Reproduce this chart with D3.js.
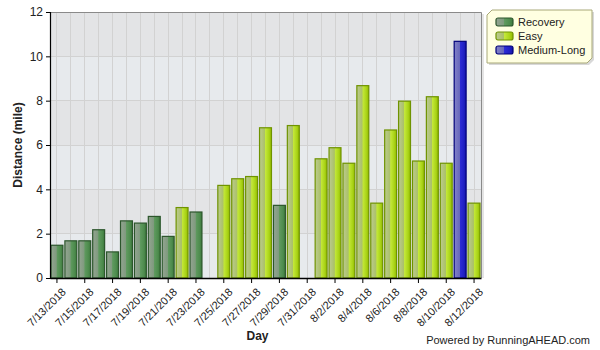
<!DOCTYPE html>
<html>
<head>
<meta charset="utf-8">
<script src="https://cdn.jsdelivr.net/npm/d3@7"></script>
<style>
  html, body { margin: 0; padding: 0; background: #fff; }
  svg { display: block; font-family: Arial, "Liberation Sans", sans-serif; }
</style>
</head>
<body>
<svg id="chart" width="600" height="350"></svg>
<script>
// Daily run log, 7/13/2018 – 8/12/2018
const days = ["7/13/2018","7/14/2018","7/15/2018","7/16/2018","7/17/2018","7/18/2018","7/19/2018","7/20/2018",
  "7/21/2018","7/22/2018","7/23/2018","7/24/2018","7/25/2018","7/26/2018","7/27/2018","7/28/2018",
  "7/29/2018","7/30/2018","7/31/2018","8/1/2018","8/2/2018","8/3/2018","8/4/2018","8/5/2018",
  "8/6/2018","8/7/2018","8/8/2018","8/9/2018","8/10/2018","8/11/2018","8/12/2018"];
const distances = [1.5,1.7,1.7,2.2,1.2,2.6,2.5,2.8,
  1.9,3.2,3.0,null,4.2,4.5,4.6,6.8,
  3.3,6.9,null,5.4,5.9,5.2,8.7,3.4,
  6.7,8.0,5.3,8.2,5.2,10.7,3.4];
const runTypes = ["Recovery","Recovery","Recovery","Recovery","Recovery","Recovery","Recovery","Recovery",
  "Recovery","Easy","Recovery",null,"Easy","Easy","Easy","Easy",
  "Recovery","Easy",null,"Easy","Easy","Easy","Easy","Easy",
  "Easy","Easy","Easy","Easy","Easy","Medium-Long","Easy"];
const seriesNames = ["Recovery","Easy","Medium-Long"];
const yTicks = [0,2,4,6,8,10,12];
const xTickLabels = days.filter((d, i) => i % 2 === 0);

const svg = d3.select("#chart");
const margin = {left: 50, top: 12, right: 119, bottom: 72};
const W = 600, H = 350;
const x0 = margin.left, x1 = W - margin.right, y0 = H - margin.bottom, y1 = margin.top;

const x = d3.scaleBand().domain(days).range([x0, x1]).paddingInner(0.07).paddingOuter(0.035);
const y = d3.scaleLinear().domain([0, 12]).range([y0, y1]);

// Gradients for the bar fills
const defs = svg.append("defs");
const styles = {
  "Recovery":    {stroke: "#2c562c", stops: [["0%","#94a592"],["45%","#7f9a7e"],["50%","#5f9a5f"],["80%","#4e8c4e"],["100%","#3c783c"]]},
  "Easy":        {stroke: "#6f9300", stops: [["0%","#bccb90"],["45%","#aac068"],["50%","#c4e83a"],["80%","#aad418"],["100%","#92b800"]]},
  "Medium-Long": {stroke: "#00007a", stops: [["0%","#8383c8"],["45%","#6868bc"],["50%","#2c2cd6"],["80%","#2020c4"],["100%","#1414a8"]]}
};
seriesNames.forEach((s, i) => {
  const g = defs.append("linearGradient").attr("id", "grad" + i)
    .attr("x1", "0%").attr("x2", "100%").attr("y1", "0%").attr("y2", "0%");
  styles[s].stops.forEach(([o, c]) => g.append("stop").attr("offset", o).attr("stop-color", c));
});
const fillOf = s => "url(#grad" + seriesNames.indexOf(s) + ")";

// Plot background: alternating horizontal bands
const bands = d3.range(0, 12, 2);
svg.append("g").selectAll("rect").data(bands).join("rect")
  .attr("x", x0).attr("width", x1 - x0)
  .attr("y", d => y(d + 2)).attr("height", d => y(d) - y(d + 2))
  .attr("fill", d => (d / 2) % 2 === 1 ? "#e3e4e6" : "#e7eaed");

// Grid lines
svg.append("g").selectAll("line").data(days).join("line")
  .attr("x1", d => x(d) + x.bandwidth() / 2).attr("x2", d => x(d) + x.bandwidth() / 2)
  .attr("y1", y1).attr("y2", y0)
  .attr("stroke", "#d2d2d2").attr("stroke-width", 1).attr("shape-rendering", "crispEdges");
svg.append("g").selectAll("line").data(yTicks.slice(1, -1)).join("line")
  .attr("x1", x0).attr("x2", x1).attr("y1", d => y(d)).attr("y2", d => y(d))
  .attr("stroke", "#d2d2d2").attr("stroke-width", 1).attr("shape-rendering", "crispEdges");

// Frame: top and right edges with a soft shadow
svg.append("line").attr("x1", x1 + 2).attr("x2", x1 + 2).attr("y1", y1 + 2).attr("y2", y0)
  .attr("stroke", "#e4e4e4").attr("stroke-width", 2);
svg.append("path").attr("d", `M${x0},${y1 + 0.5}H${x1 + 0.5}V${y0}`)
  .attr("fill", "none").attr("stroke", "#8a8a8a").attr("stroke-width", 1);

// Bars
const rows = days.map((d, i) => ({day: d, value: distances[i], type: runTypes[i]})).filter(r => r.value != null);
svg.append("g").selectAll("rect").data(rows).join("rect")
  .attr("x", r => x(r.day) + 0.5)
  .attr("y", r => y(r.value) + 0.5)
  .attr("width", x.bandwidth() - 1)
  .attr("height", r => y(0) - y(r.value) - 0.5)
  .attr("fill", r => fillOf(r.type))
  .attr("stroke", r => styles[r.type].stroke)
  .attr("stroke-width", 1.2);

// Axes
const yAxis = svg.append("g").attr("transform", `translate(${x0},0)`)
  .call(d3.axisLeft(y).tickValues(yTicks).tickSize(4).tickPadding(3));
yAxis.select(".domain").attr("stroke", "#000").attr("stroke-width", 1.2);
yAxis.selectAll(".tick line").attr("stroke", "#000");
yAxis.selectAll(".tick text").attr("font-size", 12).attr("fill", "#222")
  .attr("font-family", "Arial, 'Liberation Sans', sans-serif");

const xAxis = svg.append("g").attr("transform", `translate(0,${y0})`)
  .call(d3.axisBottom(x).tickValues(xTickLabels).tickSize(5).tickSizeOuter(0));
xAxis.select(".domain").attr("stroke", "#000").attr("stroke-width", 1.6);
xAxis.selectAll(".tick line").attr("stroke", "#000");
xAxis.selectAll(".tick text")
  .attr("font-size", 11).attr("fill", "#222")
  .attr("font-family", "Arial, 'Liberation Sans', sans-serif")
  .attr("text-anchor", "end")
  .attr("dx", 0).attr("dy", 0)
  .attr("transform", "translate(4,9) rotate(-45)");

// Axis titles
svg.append("text").attr("transform", `translate(22,${(y0 + y1) / 2}) rotate(-90)`)
  .attr("text-anchor", "middle").attr("font-size", 12).attr("font-weight", "bold").attr("fill", "#222")
  .text("Distance (mile)");
svg.append("text").attr("x", (x0 + x1) / 2 - 8).attr("y", 340)
  .attr("text-anchor", "middle").attr("font-size", 12).attr("font-weight", "bold").attr("fill", "#222")
  .text("Day");

// Legend
const lg = svg.append("g").attr("transform", "translate(487,10)");
const lw = 105, lh = 53, c = 5;
const legendPath = `M${c},0H${lw}V${lh - c}L${lw - c},${lh}H0V${c}Z`;
lg.append("path").attr("d", legendPath).attr("transform", "translate(2,2)").attr("fill", "#d8d8d8");
lg.append("path").attr("d", legendPath).attr("fill", "#ffffe1").attr("stroke", "#a8a878").attr("stroke-width", 1);
seriesNames.forEach((s, i) => {
  const row = lg.append("g").attr("transform", `translate(9,${8 + i * 14})`);
  row.append("rect").attr("width", 17).attr("height", 8).attr("rx", 2)
    .attr("fill", fillOf(s)).attr("stroke", styles[s].stroke).attr("stroke-width", 1.2);
  row.append("text").attr("x", 22).attr("y", 8).attr("font-size", 11).attr("fill", "#222").text(s);
});

// Credit line
svg.append("text").attr("x", 590).attr("y", 344).attr("text-anchor", "end")
  .attr("font-size", 11).attr("fill", "#222").text("Powered by RunningAHEAD.com");
</script>
</body>
</html>
